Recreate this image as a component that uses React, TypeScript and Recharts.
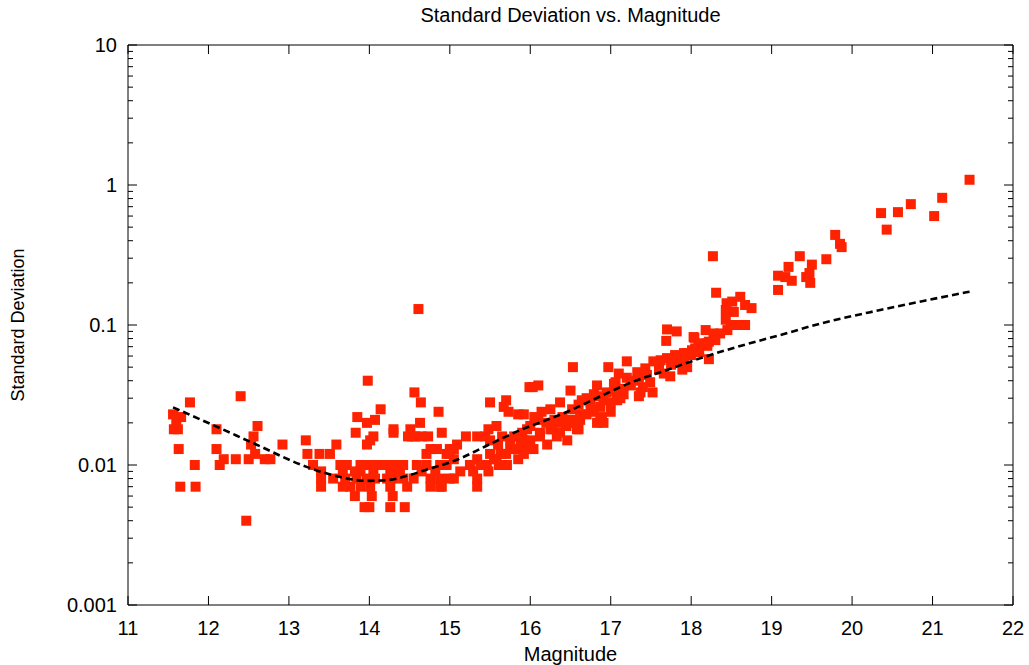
import React from 'react';
import { ComposedChart, Scatter, XAxis, YAxis } from 'recharts';

// Measured points as [magnitude, standard deviation], grouped by brightness range
const brightEnd: [number, number][] = [
  [11.56, 0.023], [11.66, 0.022], [11.6, 0.02], [11.57, 0.018], [11.62, 0.018],
  [11.63, 0.013], [11.65, 0.007], [11.77, 0.028], [11.83, 0.01], [11.84, 0.007],
  [12.1, 0.018], [12.1, 0.013], [12.14, 0.01], [12.19, 0.011], [12.34, 0.011],
  [12.4, 0.031], [12.5, 0.011], [12.47, 0.004], [12.53, 0.014], [12.56, 0.016],
  [12.61, 0.019], [12.58, 0.012], [12.7, 0.011], [12.77, 0.011], [12.92, 0.014],
  [13.21, 0.015], [13.23, 0.012], [13.38, 0.012], [13.51, 0.012], [13.59, 0.014],
  [13.3, 0.01], [13.4, 0.009], [13.4, 0.008], [13.4, 0.007], [13.55, 0.008],
  [13.64, 0.01],
];

const turnover: [number, number][] = [
  [13.98, 0.04], [13.85, 0.022], [14.14, 0.025], [13.97, 0.02], [14.07, 0.021],
  [13.83, 0.017], [14.05, 0.016], [14.01, 0.015], [13.97, 0.014], [14.3, 0.018],
  [14.3, 0.017], [14.48, 0.016], [14.56, 0.033], [14.64, 0.028], [14.86, 0.024],
  [14.61, 0.13],
  [13.66, 0.01], [13.72, 0.01], [13.89, 0.01], [13.95, 0.01], [14.01, 0.01],
  [14.09, 0.01], [14.17, 0.01], [14.28, 0.01], [14.34, 0.01], [14.42, 0.01],
  [13.67, 0.009], [13.82, 0.009], [13.89, 0.009], [14.05, 0.009], [14.26, 0.009],
  [14.38, 0.009],
  [13.7, 0.008], [13.84, 0.008], [13.97, 0.008], [14.07, 0.008], [14.22, 0.008],
  [14.3, 0.008], [14.42, 0.008],
  [13.67, 0.007], [13.76, 0.007], [13.89, 0.007], [14.01, 0.007], [14.26, 0.007],
  [14.47, 0.007],
  [13.82, 0.006], [14.03, 0.006], [14.29, 0.006],
  [13.94, 0.005], [14.0, 0.005], [14.26, 0.005], [14.44, 0.005],
];

const risingLow: [number, number][] = [
  [14.51, 0.018], [14.53, 0.016], [14.63, 0.02], [14.57, 0.016], [14.65, 0.016],
  [14.73, 0.016], [14.76, 0.013], [14.84, 0.013], [14.71, 0.012], [14.9, 0.017],
  [15.2, 0.016], [15.34, 0.016], [15.48, 0.018], [15.58, 0.019], [15.44, 0.016],
  [15.5, 0.015], [15.09, 0.014], [15.05, 0.013], [15.0, 0.012], [15.5, 0.028],
  [14.59, 0.01], [14.71, 0.01], [14.88, 0.01], [14.96, 0.01], [15.25, 0.01],
  [15.46, 0.01], [15.38, 0.01], [15.61, 0.01], [15.71, 0.01],
  [15.34, 0.011], [15.58, 0.011], [15.7, 0.012], [15.05, 0.011], [15.55, 0.011],
  [14.55, 0.008], [14.76, 0.008], [14.88, 0.008], [15.0, 0.008], [15.34, 0.008],
  [15.05, 0.008],
  [14.76, 0.007], [14.88, 0.007], [15.34, 0.007], [14.9, 0.007],
  [15.13, 0.009], [15.29, 0.009], [15.48, 0.009], [14.65, 0.009], [14.82, 0.009],
  [14.96, 0.012], [15.0, 0.013], [15.5, 0.012], [15.63, 0.012], [15.75, 0.013],
  [15.88, 0.014],
];

const risingMid: [number, number][] = [
  [16.0, 0.015], [16.12, 0.016], [16.25, 0.018], [16.37, 0.02], [16.5, 0.021],
  [16.62, 0.023], [16.75, 0.025], [16.87, 0.026], [17.0, 0.028], [17.08, 0.031],
  [15.92, 0.012], [16.04, 0.013], [16.21, 0.014], [16.33, 0.016], [16.46, 0.015],
  [16.58, 0.018], [16.83, 0.02], [16.87, 0.021],
  [15.7, 0.029], [15.67, 0.026], [15.73, 0.024], [15.85, 0.023], [15.92, 0.023],
  [15.99, 0.036],
  [15.75, 0.015], [15.83, 0.013], [15.92, 0.015], [15.9, 0.017], [15.96, 0.018],
  [16.53, 0.05], [16.97, 0.05], [17.2, 0.055],
  [16.03, 0.036], [16.1, 0.037], [16.5, 0.034], [16.37, 0.028], [16.83, 0.037],
  [17.06, 0.039],
  [16.14, 0.024], [16.25, 0.025], [16.52, 0.025], [16.64, 0.029], [16.7, 0.03],
  [16.79, 0.032], [16.87, 0.031], [16.95, 0.033], [17.06, 0.034], [17.16, 0.032],
  [16.0, 0.019], [16.12, 0.017], [16.27, 0.018], [16.37, 0.017], [16.45, 0.019],
  [16.54, 0.02], [16.62, 0.021], [16.7, 0.023], [16.79, 0.024], [17.08, 0.029],
  [16.6, 0.018], [16.6, 0.027], [16.75, 0.028], [16.4, 0.022], [16.3, 0.021],
  [16.2, 0.02], [16.1, 0.021], [16.05, 0.022],
  [15.6, 0.014], [15.65, 0.016], [15.8, 0.016], [15.85, 0.011], [15.95, 0.013],
];

const steepBand: [number, number][] = [
  [17.7, 0.093], [17.82, 0.09], [17.69, 0.077], [18.04, 0.081], [18.28, 0.087],
  [18.22, 0.076],
  [17.33, 0.046], [17.43, 0.049], [17.53, 0.055], [17.62, 0.056], [17.7, 0.058],
  [17.8, 0.061], [17.91, 0.063], [18.01, 0.066], [18.09, 0.07], [18.2, 0.074],
  [18.3, 0.078],
  [17.35, 0.042], [17.49, 0.039], [17.52, 0.033], [17.66, 0.045], [17.74, 0.043],
  [17.89, 0.048], [17.95, 0.05],
  [17.35, 0.031], [17.12, 0.03], [17.04, 0.038], [16.91, 0.029], [16.89, 0.022],
  [16.91, 0.02], [18.22, 0.057],
  [17.15, 0.035], [17.25, 0.037], [17.3, 0.04], [17.4, 0.036], [17.45, 0.044],
  [17.2, 0.042], [17.1, 0.045], [17.6, 0.048], [17.0, 0.024], [17.37, 0.033],
  [18.0, 0.061], [18.1, 0.064], [17.85, 0.056], [17.75, 0.052],
];

const bendCluster: [number, number][] = [
  [18.27, 0.31], [18.31, 0.17], [18.44, 0.143], [18.51, 0.147], [18.61, 0.159],
  [18.67, 0.139], [18.75, 0.132], [18.43, 0.128], [18.53, 0.124], [18.43, 0.109],
  [18.49, 0.1], [18.59, 0.1], [18.67, 0.1], [18.45, 0.092], [18.36, 0.087],
  [18.28, 0.085], [18.18, 0.092], [18.03, 0.082], [18.11, 0.074], [18.2, 0.071],
  [18.05, 0.068], [17.95, 0.063], [17.91, 0.056],
];

const faintTail: [number, number][] = [
  [19.08, 0.225], [19.08, 0.178], [19.17, 0.22], [19.25, 0.207], [19.21, 0.26],
  [19.35, 0.31], [19.43, 0.22], [19.47, 0.235], [19.5, 0.27], [19.48, 0.2],
  [19.68, 0.295], [19.79, 0.44], [19.85, 0.38], [19.87, 0.36], [20.36, 0.63],
  [20.43, 0.48], [20.57, 0.64], [20.73, 0.73], [21.02, 0.6], [21.12, 0.81],
  [21.46, 1.09],
];

// Noise model curve
const fitMagnitude = [
  11.56, 12.1, 12.56, 13.22, 13.64, 13.97, 14.22, 14.51, 14.67, 15.09, 15.5, 15.88,
  16.04, 16.46, 16.87, 17.28, 17.7, 18.11, 18.61, 19.11, 19.61, 20.35, 20.9, 21.46,
];
const fitStdDev = [
  0.0258, 0.0188, 0.0143, 0.0097, 0.0082, 0.0077, 0.0078, 0.0085, 0.0091, 0.0109, 0.0141, 0.0178,
  0.0193, 0.024, 0.0309, 0.0394, 0.0477, 0.0578, 0.0708, 0.0849, 0.1025, 0.128, 0.149, 0.173,
];

const magnitudeTicks = [11, 12, 13, 14, 15, 16, 17, 18, 19, 20, 21, 22];
const decadeTicks = [0.001, 0.01, 0.1, 1, 10];
const minorSteps = [2, 3, 4, 5, 6, 7, 8, 9];

const observed = [
  ...brightEnd, ...turnover, ...risingLow, ...risingMid, ...steepBand, ...bendCluster, ...faintTail,
].map(([mag, sd]) => ({ mag, sd }));
const fit = fitMagnitude.map((mag, i) => ({ mag, sd: fitStdDev[i] }));

const logTicks = [
  ...decadeTicks,
  ...decadeTicks.slice(0, -1).flatMap((d) => minorSteps.map((s) => Number((d * s).toPrecision(3)))),
].sort((a, b) => a - b);

const FONT = '"Liberation Sans", Arial, Helvetica, sans-serif';
const MARKER = '#ff2200';
const W = 1029;
const H = 665;

const isDecade = (v: number) => decadeTicks.some((d) => Math.abs(d - v) / d < 1e-6);

const LeftTick = (props: any) => {
  const { x, y, payload } = props;
  const major = isDecade(payload.value);
  return (
    <g>
      <line x1={x} x2={x + (major ? 9 : 5)} y1={y} y2={y} stroke="#000" strokeWidth={1} />
      {major && (
        <text x={x - 11} y={y + 7} textAnchor="end" fontSize={20} fontFamily={FONT} fill="#000">
          {String(payload.value)}
        </text>
      )}
    </g>
  );
};

const RightTick = (props: any) => {
  const { x, y, payload } = props;
  const major = isDecade(payload.value);
  return <line x1={x} x2={x - (major ? 9 : 5)} y1={y} y2={y} stroke="#000" strokeWidth={1} />;
};

const BottomTick = (props: any) => {
  const { x, y, payload } = props;
  return (
    <g>
      <line x1={x} x2={x} y1={y} y2={y - 9} stroke="#000" strokeWidth={1} />
      <text x={x} y={y + 30} textAnchor="middle" fontSize={20} fontFamily={FONT} fill="#000">
        {payload.value}
      </text>
    </g>
  );
};

const TopTick = (props: any) => {
  const { x, y } = props;
  return <line x1={x} x2={x} y1={y} y2={y + 9} stroke="#000" strokeWidth={1} />;
};

const SquareDot = (props: any) => {
  const { cx, cy } = props;
  if (cx == null || cy == null) return <g />;
  return <rect x={cx - 5} y={cy - 5} width={10} height={10} fill={MARKER} />;
};

const NoDot = () => <g />;

export default function App() {
  return (
    <div style={{ position: 'absolute', left: 0, top: 0, width: W, height: H, background: '#fff' }}>
      <div
        style={{
          position: 'absolute',
          left: 128,
          width: 885,
          top: 4,
          textAlign: 'center',
          fontFamily: FONT,
          fontSize: 20,
          color: '#000',
        }}
      >
        Standard Deviation vs. Magnitude
      </div>
      <ComposedChart width={W} height={H} margin={{ top: 44, right: 15, bottom: 0, left: 0 }}>
        <XAxis
          xAxisId="bottom"
          dataKey="mag"
          type="number"
          domain={[11, 22]}
          ticks={magnitudeTicks}
          interval={0}
          allowDataOverflow
          height={60}
          tickSize={0}
          tickMargin={0}
          tickLine={false}
          tick={BottomTick}
          axisLine={{ stroke: '#000', strokeWidth: 1 }}
          label={{ value: 'Magnitude', position: 'insideBottom', offset: 4, fontSize: 20, fontFamily: FONT, fill: '#000' }}
        />
        <XAxis
          xAxisId="top"
          orientation="top"
          dataKey="mag"
          type="number"
          domain={[11, 22]}
          ticks={magnitudeTicks}
          interval={0}
          allowDataOverflow
          height={1}
          tickSize={0}
          tickMargin={0}
          tickLine={false}
          tick={TopTick}
          axisLine={{ stroke: '#000', strokeWidth: 1 }}
        />
        <YAxis
          yAxisId="left"
          type="number"
          scale="log"
          domain={[0.001, 10]}
          ticks={logTicks}
          interval={0}
          allowDataOverflow
          width={128}
          tickSize={0}
          tickMargin={0}
          tickLine={false}
          tick={LeftTick}
          axisLine={{ stroke: '#000', strokeWidth: 1 }}
          label={{ value: 'Standard Deviation', angle: -90, position: 'insideLeft', offset: 18, fontSize: 18, fontFamily: FONT, fill: '#000', style: { textAnchor: 'middle' } }}
        />
        <YAxis
          yAxisId="right"
          orientation="right"
          type="number"
          scale="log"
          domain={[0.001, 10]}
          ticks={logTicks}
          interval={0}
          allowDataOverflow
          width={1}
          tickSize={0}
          tickMargin={0}
          tickLine={false}
          tick={RightTick}
          axisLine={{ stroke: '#000', strokeWidth: 1 }}
        />
        <Scatter
          xAxisId="bottom"
          yAxisId="left"
          data={observed}
          dataKey="sd"
          shape={SquareDot}
          isAnimationActive={false}
        />
        {/* fitted curve drawn as a scatter line so it stacks above the squares */}
        <Scatter
          xAxisId="top"
          yAxisId="right"
          data={fit}
          dataKey="sd"
          shape={NoDot}
          line={{ stroke: '#000', strokeWidth: 2.6, strokeDasharray: '7 4', fill: 'none' }}
          lineJointType="monotoneX"
          isAnimationActive={false}
        />
      </ComposedChart>
    </div>
  );
}
